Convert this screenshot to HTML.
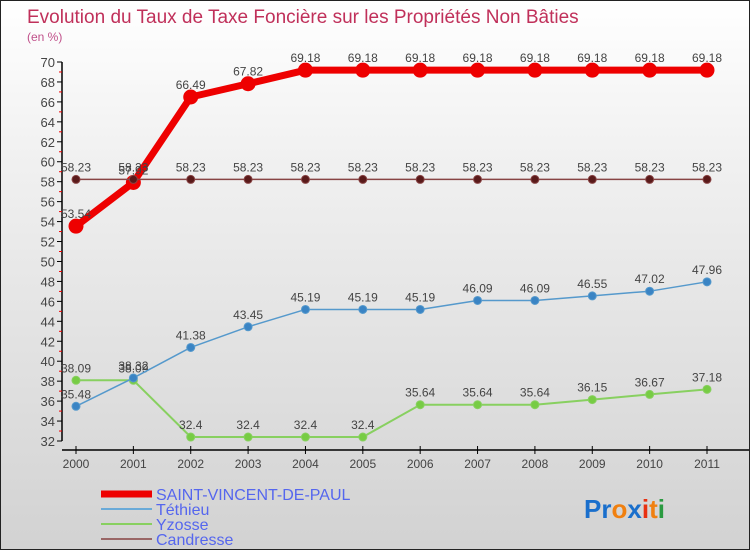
<!DOCTYPE html>
<html><head><meta charset="utf-8"><style>
body{margin:0}
#wrap{position:relative;width:750px;height:550px;box-sizing:border-box;border:1px solid #222;background:linear-gradient(#fff 0%,#f0f0f0 30%,#d2d2d2 100%);font-family:"Liberation Sans",sans-serif;overflow:hidden}
svg text{font-family:"Liberation Sans",sans-serif}
</style></head><body>
<div id="wrap">
<svg id="chart" width="750" height="550">
<text x="26" y="22" font-size="19" fill="#c0305a">Evolution du Taux de Taxe Foncière sur les Propriétés Non Bâties</text>
<text x="26" y="40" font-size="12" fill="#c0508a">(en %)</text>
<g id="axes"></g><g id="series"></g><g id="legend"></g>
<text x="583" y="517" font-size="26" font-weight="bold"><tspan fill="#1a6fcc">Pr</tspan><tspan fill="#f08010">o</tspan><tspan fill="#1a6fcc">x</tspan><tspan fill="#e83010">i</tspan><tspan fill="#f08010">t</tspan><tspan fill="#2a9a40">i</tspan></text>
</svg>
</div>
<script>
const years=["2000","2001","2002","2003","2004","2005","2006","2007","2008","2009","2010","2011"];
const svpValues=[53.54,57.92,66.49,67.82,69.18,69.18,69.18,69.18,69.18,69.18,69.18,69.18];
const tethieuValues=[35.48,38.32,41.38,43.45,45.19,45.19,45.19,46.09,46.09,46.55,47.02,47.96];
const yzosseValues=[38.09,38.09,32.4,32.4,32.4,32.4,35.64,35.64,35.64,36.15,36.67,37.18];
const candresseValues=[58.23,58.23,58.23,58.23,58.23,58.23,58.23,58.23,58.23,58.23,58.23,58.23];
const yTicks=[32,34,36,38,40,42,44,46,48,50,52,54,56,58,60,62,64,66,68,70];
const seriesNames=["SAINT-VINCENT-DE-PAUL","Téthieu","Yzosse","Candresse"];
const NS="http://www.w3.org/2000/svg";
function x(i){return 75+i*(706-75)/(years.length-1);}
function y(v){return 440-(v-32)*(440-61)/(70-32);}
function mk(tag,attrs,parent,text){const e=document.createElementNS(NS,tag);for(const k in attrs)e.setAttribute(k,attrs[k]);if(text!==undefined)e.textContent=text;parent.appendChild(e);return e;}
const axes=document.getElementById('axes');
let e=mk('line',{x1:61,y1:y(70),x2:61,y2:y(32),stroke:'#000','stroke-width':1.5},axes);

e=mk('line',{x1:61,y1:449,x2:750,y2:449,stroke:'#000','stroke-width':1.5},axes);

yTicks.forEach(t=>{
 mk('line',{x1:56,y1:y(t),x2:61,y2:y(t),stroke:'#000'},axes);
 if(t<70) mk('line',{x1:58,y1:y(t+1),x2:61,y2:y(t+1),stroke:'#e00'},axes);
 e=mk('text',{x:54,y:y(t)+5,'text-anchor':'end','font-size':13,fill:'#444'},axes,t);
 
});
years.forEach((yr,i)=>{
 mk('line',{x1:x(i),y1:445,x2:x(i),y2:453,stroke:'#000'},axes);
 e=mk('text',{x:x(i),y:467,'text-anchor':'middle','font-size':12,fill:'#444'},axes,yr);
 
});
const ser=document.getElementById('series');
function draw(vals,color,w,r,name,dot){
 const g=mk('g',{},ser);
 
 const l=mk('polyline',{points:vals.map((v,i)=>x(i)+','+y(v)).join(' '),fill:'none',stroke:color,'stroke-width':w,'stroke-linejoin':'round'},g);
 
 vals.forEach((v,i)=>{
  const c=mk('circle',{cx:x(i),cy:y(v),r:r,fill:dot,stroke:color,'stroke-width':1},g);
  
  const t=mk('text',{x:x(i),y:y(v)-8,'text-anchor':'middle','font-size':12,fill:'#444'},g,v);
  
 });
}
draw(yzosseValues,'#88d060',2,4,'yzosse','#77cc44');
draw(tethieuValues,'#5599cc',1.5,4,'tethieu','#3a84c4');
draw(svpValues,'#ee0000',7,7,'saint-vincent-de-paul','#ee0000');
draw(candresseValues,'#884444',1.5,4,'candresse','#5a1a1a');
const leg=document.getElementById('legend');
const lc=['#ee0000','#6aaad8','#88d060','#996666'],lw=[7,2,2,2];
seriesNames.forEach((n,i)=>{
 const yy=493+i*15;
 const g=mk('g',{},leg);
 
 mk('line',{x1:100,y1:yy,x2:151,y2:yy,stroke:lc[i],'stroke-width':lw[i]},g);
 mk('text',{x:155,y:yy+6,'font-size':16,fill:'#5566ee'},g,n);
});
</script>
</body></html>
